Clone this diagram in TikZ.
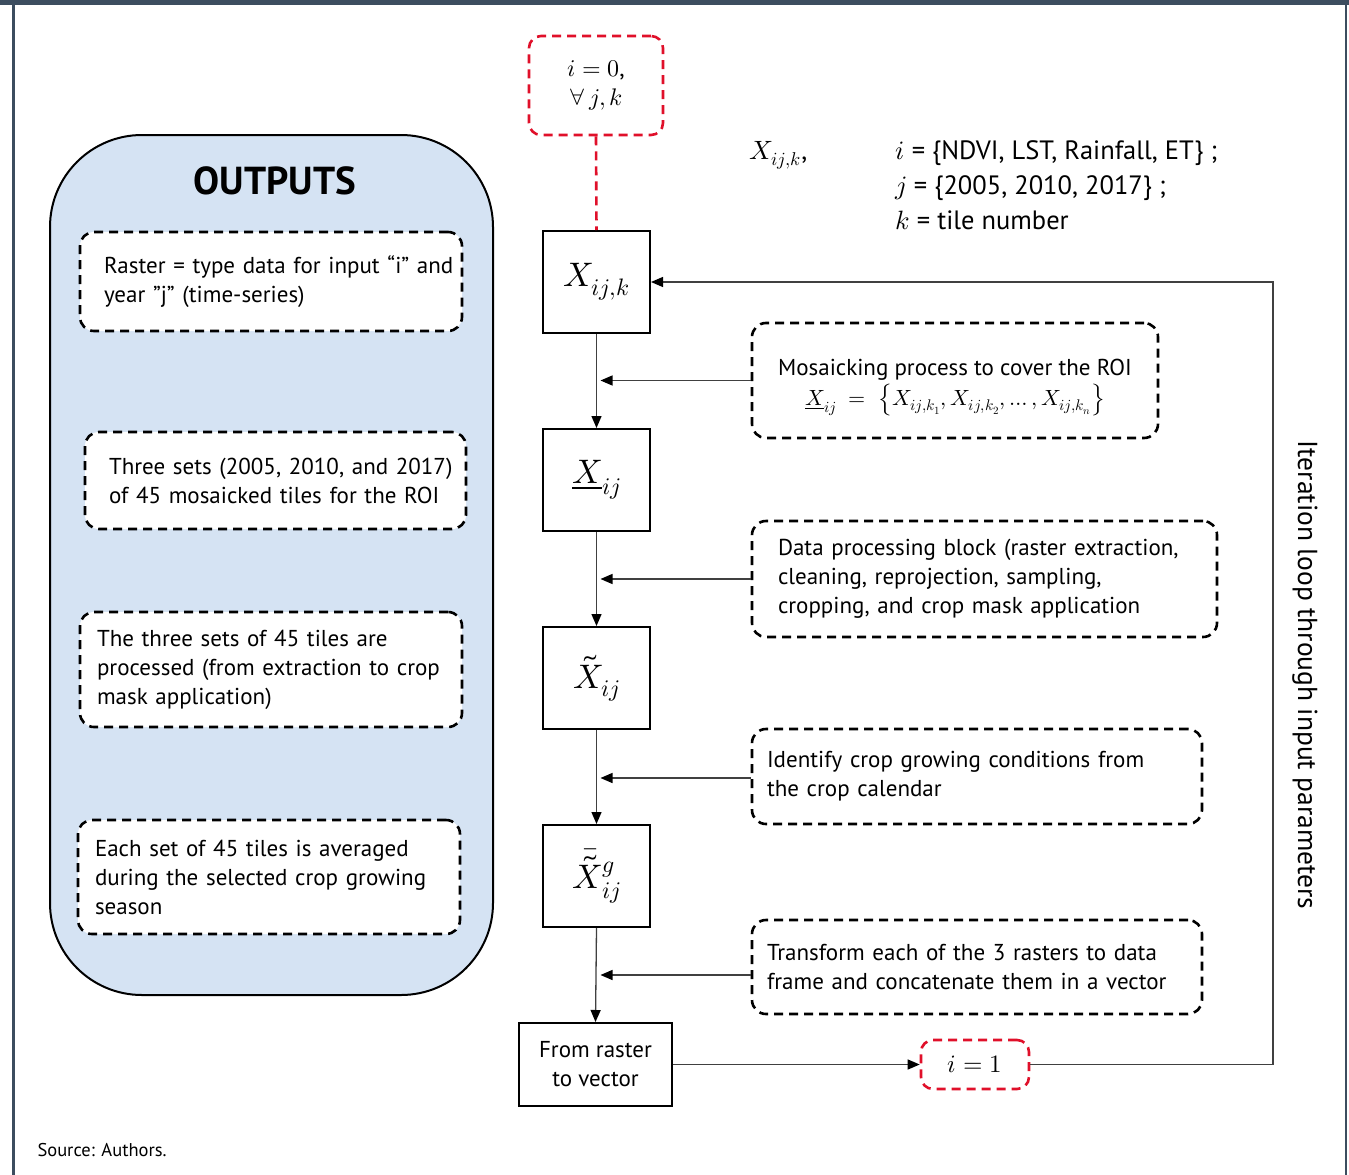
\documentclass[tikz,border=0pt]{standalone}
\usepackage{fontspec}
\usepackage{unicode-math}
\setmainfont{PT Sans}
\setmathfont{Latin Modern Math}
\usetikzlibrary{arrows.meta,calc}
\definecolor{framec}{HTML}{3C4D5F}
\definecolor{outfill}{HTML}{D5E3F3}
\definecolor{redd}{HTML}{E0102A}
\begin{document}
\begin{tikzpicture}[x=1pt,y=-1pt,
  every node/.style={font=\fontsize{23}{29}\selectfont},
  dbox/.style={draw=black, line width=2.6pt, dash pattern=on 9pt off 6pt, rounded corners=14pt, fill=white, align=left, inner ysep=0pt},
  rbox/.style={draw=redd, line width=2.6pt, dash pattern=on 9pt off 6pt, rounded corners=12pt, fill=white, align=center, inner sep=0pt},
  sbox/.style={draw=black, line width=2pt, fill=white, minimum width=107pt, minimum height=102pt, inner sep=0pt, font=\fontsize{34}{40}\selectfont},
  flow/.style={draw=black!75, line width=1.3pt, -{Triangle[length=12pt,width=10pt,color=black]}},
  redline/.style={draw=redd, line width=2.6pt, dash pattern=on 9pt off 6pt},
]
\useasboundingbox (0,0) rectangle (1349,1175);
\fill[white] (0,0) rectangle (1349,1175);
% frame
\fill[framec] (0,0) rectangle (1349,5);
\fill[framec] (12,0) rectangle (14.5,1175);
\fill[framec] (1344.5,0) rectangle (1347,1175);

% outputs panel
\node[draw=black, line width=2pt, fill=outfill, rounded corners=92pt, minimum width=443pt, minimum height=860pt] (out) at (271.5,565) {};
\node[font=\fontsize{39}{44}\selectfont\bfseries] (title) at (275,181) {OUTPUTS};

\node[dbox, text width=334pt, inner xsep=24pt, minimum height=99pt] (o1) at (271,281.5)
  {\mbox{Raster = type data for input “i” and}\\ \mbox{year ”j” (time-series)}};
\node[dbox, text width=333pt, inner xsep=24pt, minimum height=97pt] (o2) at (275.5,480.5)
  {\mbox{Three sets (2005, 2010, and 2017)}\\ \mbox{of 45 mosaicked tiles for the ROI}};
\node[dbox, text width=348pt, inner xsep=17pt, minimum height=115pt] (o3) at (271,669.5)
  {\mbox{The three sets of 45 tiles are}\\ \mbox{processed (from extraction to crop}\\ \mbox{mask application)}};
\node[dbox, text width=348pt, inner xsep=17pt, minimum height=114pt] (o4) at (269,877)
  {\mbox{Each set of 45 tiles is averaged}\\ \mbox{during the selected crop growing}\\ \mbox{season}};

% start red box
\node[rbox, minimum width=134pt, minimum height=99pt, font=\fontsize{24}{29}\selectfont] (r0) at (596,85.5)
  {$i = 0$,\\ $\forall\, j,k$};

% main flow boxes
\node[sbox] (A) at (596.5,282) {$X_{ij,k}$};
\node[sbox] (B) at (596.5,480) {$\underline{X}_{ij}$};
\node[sbox] (C) at (596.5,678) {$\tilde{X}_{ij}$};
\node[sbox] (D) at (596.5,876) {$\bar{\tilde{X}}{}^{g}_{ij}$};
\node[draw=black, line width=2pt, fill=white, minimum width=153pt, minimum height=83pt, align=center, inner sep=0pt] (E) at (595.5,1064.5)
  {From raster\\ to vector};

\draw[redline] (r0.south) -- (A.north);

% process description boxes
\node[dbox, align=center, minimum width=406pt, minimum height=115pt, inner sep=0pt] (M) at (955,380.5)
  {\rule{0pt}{30pt}Mosaicking process to cover the ROI\\[1pt]
   {\fontsize{22}{26}\selectfont$\underline{X}_{ij} \;=\; \left\{X_{ij,k_1}, X_{ij,k_2}, \dots, X_{ij,k_n}\right\}$}};
\node[dbox, text width=413pt, inner xsep=26pt, minimum height=116pt] (P) at (984.5,579)
  {\mbox{Data processing block (raster extraction,}\\ \mbox{cleaning, reprojection, sampling,}\\ \mbox{cropping, and crop mask application}};
\node[dbox, text width=420pt, inner xsep=15pt, minimum height=95pt] (G) at (977,776.5)
  {\mbox{Identify crop growing conditions from}\\ \mbox{the crop calendar}};
\node[dbox, text width=420pt, inner xsep=15pt, minimum height=94pt] (T) at (977,967)
  {\mbox{Transform each of the 3 rasters to data}\\ \mbox{frame and concatenate them in a vector}};

% iteration red box
\node[rbox, minimum width=108pt, minimum height=49pt, font=\fontsize{25}{29}\selectfont] (r1) at (975,1064.5) {$i = 1$};

% vertical flow
\draw[flow] (A.south) -- (B.north);
\draw[flow] (B.south) -- (C.north);
\draw[flow] (C.south) -- (D.north);
\draw[flow] (D.south) -- (E.north);

% side arrows
\draw[flow] (M.west) -- ($(M.west -| A.south)+(4,0)$);
\draw[flow] (P.west) -- ($(P.west -| A.south)+(4,0)$);
\draw[flow] ([yshift=-1.5pt]G.west) -- ($([yshift=-1.5pt]G.west -| A.south)+(4,0)$);
\draw[flow] ([yshift=-8pt]T.west) -- ($([yshift=-8pt]T.west -| A.south)+(4,0)$);

% loop
\coordinate (lc) at (1273,1064.5);
\draw[flow] (E.east) -- (r1.west);
\draw[flow] (r1.east) -- (lc) |- (A.east);

\node[rotate=-90, font=\fontsize{27.5}{30}\selectfont] (loop) at (1305,675) {Iteration loop through input parameters};

% legend
\begin{scope}[every node/.style={font=\fontsize{26.5}{30}\selectfont, anchor=base west}]
\node (lx) at (746,159) {$X_{ij,k}$,};
\node (li) at (892,159) {$i$ = \{NDVI, LST, Rainfall, ET\} ;};
\node (lj) at (892,194) {$j$ = \{2005, 2010, 2017\} ;};
\node (lk) at (892,229) {$k$ = tile number};
\end{scope}

\node[anchor=base west, font=\fontsize{18.5}{20}\selectfont] (src) at (34,1156) {Source: Authors.};
\end{tikzpicture}
\end{document}
